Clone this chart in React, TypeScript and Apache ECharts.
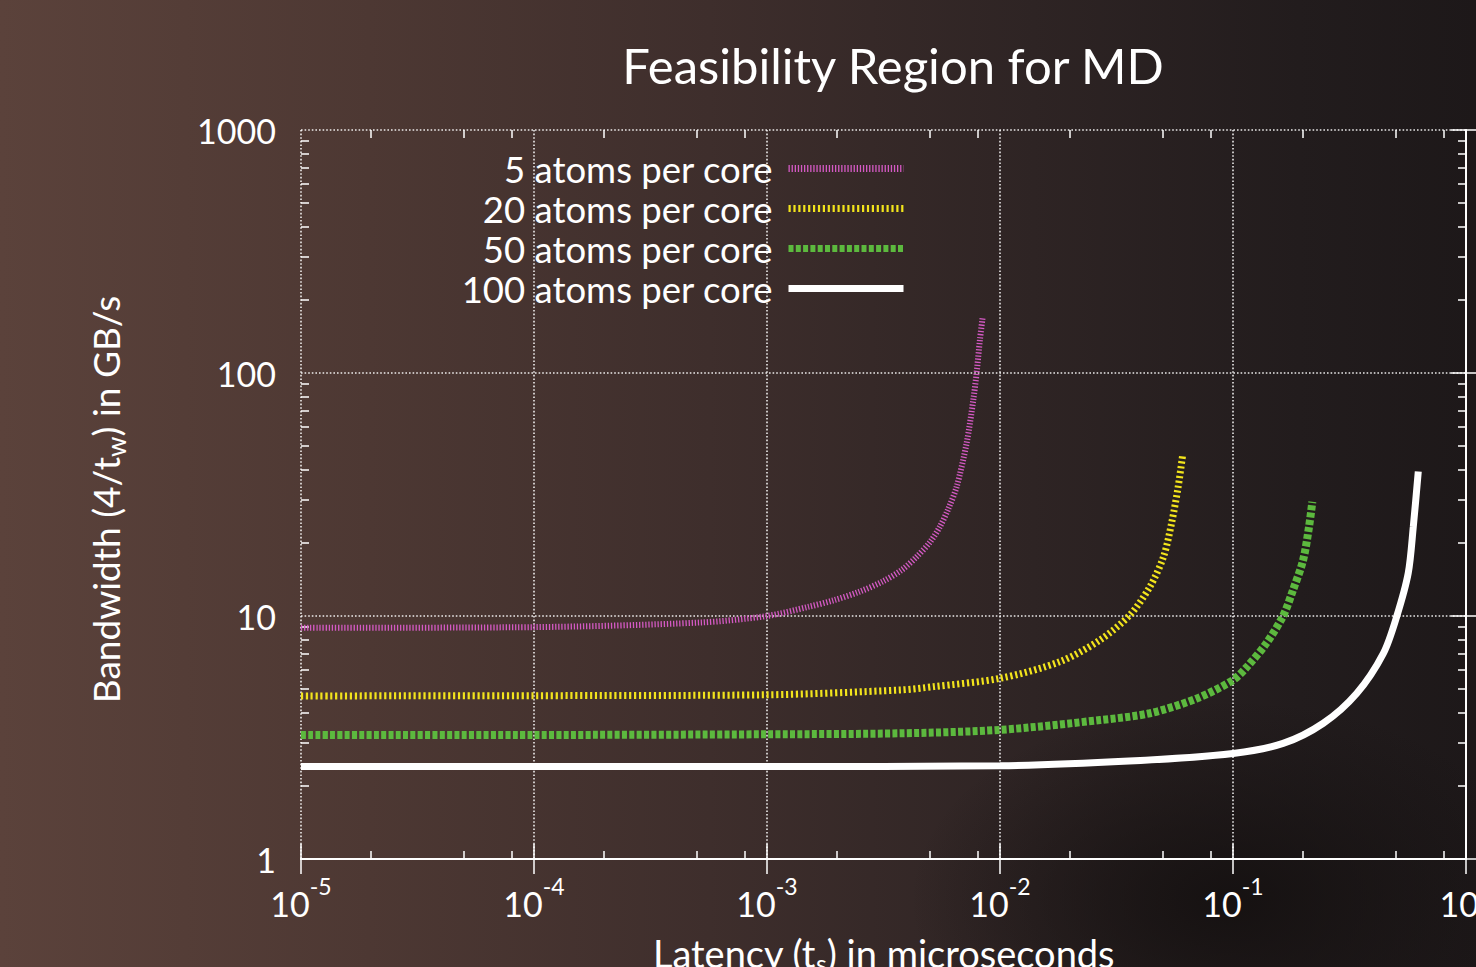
import React, { useEffect, useRef } from "react";
import * as echarts from "echarts";

// ---- data (latency in microseconds, bandwidth in GB/s) ----
const latency5 = [1e-5, 1e-4, 5.15e-4, 1e-3, 1.5e-3, 1.93e-3, 2.5e-3, 3.15e-3, 3.8e-3, 4.38e-3, 5.0e-3, 5.52e-3, 6.0e-3, 6.52e-3, 7.19e-3, 7.68e-3, 7.94e-3, 8.2e-3, 8.43e-3];
const bandwidth5 = [8.94, 9.0, 9.4, 10.0, 10.9, 11.6, 12.6, 13.9, 15.5, 17.5, 20.1, 23.3, 27.6, 34.1, 51.4, 77.4, 100.6, 136.8, 170.5];

const latency20 = [1e-5, 1e-4, 1e-3, 3.72e-3, 5.18e-3, 1e-2, 1.81e-2, 2.69e-2, 3.61e-2, 4.4e-2, 5.03e-2, 5.45e-2, 5.82e-2, 6.08e-2];
const bandwidth20 = [4.69, 4.7, 4.74, 4.96, 5.12, 5.54, 6.49, 7.97, 10.1, 13.2, 17.5, 24.1, 34.1, 46.0];

const latency50 = [1e-5, 1e-4, 1e-3, 3.72e-3, 1e-2, 2.69e-2, 4.4e-2, 7.0e-2, 0.1, 0.115, 0.139, 0.164, 0.181, 0.2, 0.212, 0.219];
const bandwidth50 = [3.24, 3.24, 3.26, 3.29, 3.4, 3.73, 3.98, 4.58, 5.45, 6.19, 7.72, 10.0, 12.8, 17.0, 23.3, 29.5];

const latency100 = [1e-5, 1e-4, 1e-3, 1e-2, 0.0358, 0.1, 0.164, 0.244, 0.34, 0.442, 0.504, 0.565, 0.594, 0.624];
const bandwidth100 = [2.4, 2.4, 2.4, 2.42, 2.53, 2.72, 2.99, 3.62, 4.81, 7.02, 9.94, 15.0, 23.3, 39.3];

const seriesNames = ["5 atoms per core", "20 atoms per core", "50 atoms per core", "100 atoms per core"];
const seriesColors = ["#d45ac4", "#f2e41c", "#5cb93e", "#ffffff"];
const xMinorFactors = [2, 5, 8];
const yMinorFactors = [2, 3, 4, 5, 6, 7, 8, 9];
const xDecades = [-5, -4, -3, -2, -1];
const yDecades = [0, 1, 2];

const FONT = "Lato, 'Open Sans', sans-serif";
const WHITE = "#ffffff";

export default function App() {
  const ref = useRef<HTMLDivElement>(null);

  useEffect(() => {
    if (!ref.current) return;
    const chart = echarts.init(ref.current, null, { renderer: "svg" });

    const xMinor: number[] = [];
    xDecades.forEach((e) => xMinorFactors.forEach((f) => xMinor.push(e + Math.log10(f))));
    const yMinor: number[] = [];
    yDecades.forEach((e) => yMinorFactors.forEach((f) => yMinor.push(e + Math.log10(f))));

    const pairs = (xs: number[], ys: number[]) => xs.map((x, i) => [x, ys[i]]);

    const frameLine = { show: true, lineStyle: { color: WHITE, width: 2 } };
    const majorTick = { show: true, inside: true, length: 15, lineStyle: { color: WHITE, width: 1.5 } };
    const gridDots = { show: true, lineStyle: { color: "rgba(255,255,255,0.9)", width: 1.6, type: [1.6, 2] } };

    const minorAxisX = (pos: string) => ({
      type: "value",
      min: -5,
      max: 0,
      position: pos,
      axisLine: { show: false },
      axisTick: { show: true, inside: true, length: 8, customValues: xMinor, lineStyle: { color: WHITE, width: 1.5 } },
      axisLabel: { show: false },
      splitLine: { show: false },
    });
    const minorAxisY = (pos: string) => ({
      type: "value",
      min: 0,
      max: 3,
      position: pos,
      axisLine: { show: false },
      axisTick: { show: true, inside: true, length: 8, customValues: yMinor, lineStyle: { color: WHITE, width: 1.5 } },
      axisLabel: { show: false },
      splitLine: { show: false },
    });

    const lineSeries = (i: number, xs: number[], ys: number[], width: number, type: any) => ({
      type: "line",
      name: seriesNames[i],
      data: pairs(xs, ys),
      xAxisIndex: 0,
      yAxisIndex: 0,
      symbol: "none",
      smooth: 0.3,
      itemStyle: { color: seriesColors[i] },
      lineStyle: { color: seriesColors[i], width, type },
    });

    const option: any = {
      animation: false,
      backgroundColor: "transparent",
      textStyle: { fontFamily: FONT },
      grid: { left: 301, right: 10, top: 130, bottom: 108, show: false, containLabel: false, outerBoundsMode: "none" },
      graphic: [
        {
          type: "text",
          x: 893,
          y: 65,
          style: {
            text: "Feasibility Region for MD",
            fill: WHITE,
            fontSize: 49,
            fontFamily: FONT,
            align: "center",
            verticalAlign: "middle",
          },
        },
      ],
      legend: {
        show: true,
        orient: "vertical",
        align: "right",
        right: 564,
        top: 145,
        itemWidth: 115,
        itemHeight: 8,
        itemGap: 3,
        data: seriesNames,
        textStyle: { color: WHITE, fontSize: 36.5, lineHeight: 36, fontFamily: FONT, padding: [0, 11, 0, 0] },
        lineStyle: { width: 7 },
        itemStyle: { opacity: 0 },
      },
      xAxis: [
        {
          type: "log",
          logBase: 10,
          min: 1e-5,
          max: 1,
          position: "bottom",
          axisLine: frameLine,
          axisTick: majorTick,
          minorTick: { show: false },
          splitLine: gridDots,
          axisLabel: {
            margin: 15,
            color: WHITE,
            formatter: (v: number) => `{b|10}{s|${Math.round(Math.log10(v))}}`,
            rich: {
              b: { fontSize: 34, lineHeight: 46, verticalAlign: "bottom", color: WHITE, fontFamily: FONT },
              s: { fontSize: 23, lineHeight: 23, verticalAlign: "top", color: WHITE, fontFamily: FONT },
            },
          },
          name: "Latency (t{sub|s}) in microseconds",
          nameLocation: "middle",
          nameGap: 72,
          nameTextStyle: {
            color: WHITE,
            fontSize: 38,
            lineHeight: 44,
            fontFamily: FONT,
            rich: { sub: { fontSize: 25, lineHeight: 25, verticalAlign: "bottom", color: WHITE, fontFamily: FONT } },
          },
        },
        {
          type: "log",
          logBase: 10,
          min: 1e-5,
          max: 1,
          position: "top",
          axisLine: frameLine,
          axisTick: majorTick,
          axisLabel: { show: false },
          splitLine: { show: false },
        },
        minorAxisX("bottom"),
        minorAxisX("top"),
      ],
      yAxis: [
        {
          type: "log",
          logBase: 10,
          min: 1,
          max: 1000,
          position: "left",
          axisLine: frameLine,
          axisTick: majorTick,
          minorTick: { show: false },
          splitLine: gridDots,
          axisLabel: {
            margin: 25,
            color: WHITE,
            fontSize: 34,
            fontFamily: FONT,
            formatter: (v: number) => String(Math.round(v)),
          },
          name: "Bandwidth (4/t{sub|w}) in GB/s",
          nameLocation: "middle",
          nameGap: 172,
          nameTextStyle: {
            color: WHITE,
            fontSize: 37,
            lineHeight: 48,
            fontFamily: FONT,
            padding: [0, 10, 0, 0],
            rich: { sub: { fontSize: 26, lineHeight: 26, verticalAlign: "bottom", color: WHITE, fontFamily: FONT } },
          },
        },
        {
          type: "log",
          logBase: 10,
          min: 1,
          max: 1000,
          position: "right",
          axisLine: frameLine,
          axisTick: majorTick,
          axisLabel: { show: false },
          splitLine: { show: false },
        },
        minorAxisY("left"),
        minorAxisY("right"),
      ],
      series: [
        lineSeries(0, latency5, bandwidth5, 6, [1.3, 1.8]),
        lineSeries(1, latency20, bandwidth20, 7, [2.2, 2.7]),
        lineSeries(2, latency50, bandwidth50, 8, [5, 2.3]),
        lineSeries(3, latency100, bandwidth100, 7, "solid"),
      ],
    };

    chart.setOption(option);
    return () => chart.dispose();
  }, []);

  return (
    <div
      style={{
        position: "fixed",
        left: 0,
        top: 0,
        width: 1476,
        height: 967,
        overflow: "hidden",
        background:
          "radial-gradient(ellipse 320px 200px at 1230px 900px, rgba(20,16,16,0.9), rgba(20,16,16,0) 100%), linear-gradient(90deg, #5b423b 0%, #4d3833 25%, #3e2e2c 48%, #2e2424 70%, #221c1d 88%, #1d1819 100%)",
      }}
    >
      <div ref={ref} style={{ width: 1476, height: 967 }} />
    </div>
  );
}
